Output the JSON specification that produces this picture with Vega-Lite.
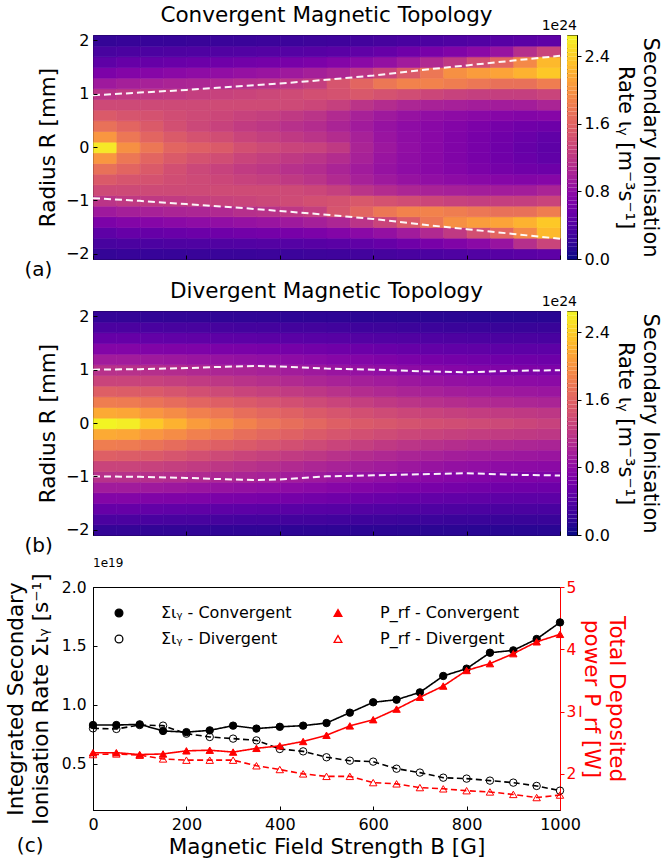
{
"$schema": "https://vega.github.io/schema/vega-lite/v6.json",
"padding": {"left": 4, "top": 4, "right": 2, "bottom": 4},
"background": "white",
"config": {
  "font": "DejaVu Sans",
  "view": {"stroke": "black", "strokeWidth": 1},
  "axis": {"grid": false, "labelFontSize": 16, "labelColor": "black", "titleFontSize": 21.5, "titleFontWeight": "normal", "titleColor": "black", "tickColor": "black", "domainColor": "black", "labelFlush": false, "tickSize": 4, "labelPadding": 3, "titleLineHeight": 25},
  "title": {"fontWeight": "normal", "color": "black", "font": "DejaVu Sans"}
},
"title": {"text": "(c)", "orient": "bottom", "anchor": "start", "frame": "bounds", "fontSize": 20, "fontWeight": "normal", "offset": -22, "dx": 12},
"columns": 2,
"bounds": "flush",
"spacing": {"row": 52, "column": 7},
"resolve": {"scale": {"color": "independent", "stroke": "independent", "strokeDash": "independent", "fill": "independent", "shape": "independent"}},
"datasets": {
"conv": [
{"b":0,"r":-2.1,"v":0.18},{"b":0,"r":-1.9,"v":0.3},{"b":0,"r":-1.7,"v":0.45},{"b":0,"r":-1.5,"v":0.65},{"b":0,"r":-1.3,"v":0.9},{"b":0,"r":-1.1,"v":1.15},{"b":0,"r":-0.9,"v":1.35},{"b":0,"r":-0.7,"v":1.5},{"b":0,"r":-0.5,"v":1.7},{"b":0,"r":-0.3,"v":2.0},{"b":0,"r":-0.1,"v":2.55},{"b":0,"r":0.1,"v":2.0},{"b":0,"r":0.3,"v":1.7},{"b":0,"r":0.5,"v":1.5},{"b":0,"r":0.7,"v":1.35},{"b":0,"r":0.9,"v":1.15},{"b":0,"r":1.1,"v":0.9},{"b":0,"r":1.3,"v":0.65},{"b":0,"r":1.5,"v":0.45},{"b":0,"r":1.7,"v":0.3},{"b":0,"r":1.9,"v":0.18},
{"b":50,"r":-2.1,"v":0.2},{"b":50,"r":-1.9,"v":0.32},{"b":50,"r":-1.7,"v":0.5},{"b":50,"r":-1.5,"v":0.7},{"b":50,"r":-1.3,"v":0.95},{"b":50,"r":-1.1,"v":1.2},{"b":50,"r":-0.9,"v":1.35},{"b":50,"r":-0.7,"v":1.45},{"b":50,"r":-0.5,"v":1.6},{"b":50,"r":-0.3,"v":1.75},{"b":50,"r":-0.1,"v":1.95},{"b":50,"r":0.1,"v":1.75},{"b":50,"r":0.3,"v":1.6},{"b":50,"r":0.5,"v":1.45},{"b":50,"r":0.7,"v":1.35},{"b":50,"r":0.9,"v":1.2},{"b":50,"r":1.1,"v":0.95},{"b":50,"r":1.3,"v":0.7},{"b":50,"r":1.5,"v":0.5},{"b":50,"r":1.7,"v":0.32},{"b":50,"r":1.9,"v":0.2},
{"b":100,"r":-2.1,"v":0.2},{"b":100,"r":-1.9,"v":0.33},{"b":100,"r":-1.7,"v":0.5},{"b":100,"r":-1.5,"v":0.72},{"b":100,"r":-1.3,"v":0.97},{"b":100,"r":-1.1,"v":1.2},{"b":100,"r":-0.9,"v":1.35},{"b":100,"r":-0.7,"v":1.42},{"b":100,"r":-0.5,"v":1.5},{"b":100,"r":-0.3,"v":1.6},{"b":100,"r":-0.1,"v":1.75},{"b":100,"r":0.1,"v":1.6},{"b":100,"r":0.3,"v":1.5},{"b":100,"r":0.5,"v":1.42},{"b":100,"r":0.7,"v":1.35},{"b":100,"r":0.9,"v":1.2},{"b":100,"r":1.1,"v":0.97},{"b":100,"r":1.3,"v":0.72},{"b":100,"r":1.5,"v":0.5},{"b":100,"r":1.7,"v":0.33},{"b":100,"r":1.9,"v":0.2},
{"b":150,"r":-2.1,"v":0.2},{"b":150,"r":-1.9,"v":0.34},{"b":150,"r":-1.7,"v":0.52},{"b":150,"r":-1.5,"v":0.75},{"b":150,"r":-1.3,"v":1.0},{"b":150,"r":-1.1,"v":1.22},{"b":150,"r":-0.9,"v":1.35},{"b":150,"r":-0.7,"v":1.38},{"b":150,"r":-0.5,"v":1.4},{"b":150,"r":-0.3,"v":1.5},{"b":150,"r":-0.1,"v":1.6},{"b":150,"r":0.1,"v":1.5},{"b":150,"r":0.3,"v":1.4},{"b":150,"r":0.5,"v":1.38},{"b":150,"r":0.7,"v":1.35},{"b":150,"r":0.9,"v":1.22},{"b":150,"r":1.1,"v":1.0},{"b":150,"r":1.3,"v":0.75},{"b":150,"r":1.5,"v":0.52},{"b":150,"r":1.7,"v":0.34},{"b":150,"r":1.9,"v":0.2},
{"b":200,"r":-2.1,"v":0.21},{"b":200,"r":-1.9,"v":0.35},{"b":200,"r":-1.7,"v":0.54},{"b":200,"r":-1.5,"v":0.78},{"b":200,"r":-1.3,"v":1.02},{"b":200,"r":-1.1,"v":1.25},{"b":200,"r":-0.9,"v":1.35},{"b":200,"r":-0.7,"v":1.35},{"b":200,"r":-0.5,"v":1.33},{"b":200,"r":-0.3,"v":1.42},{"b":200,"r":-0.1,"v":1.55},{"b":200,"r":0.1,"v":1.42},{"b":200,"r":0.3,"v":1.33},{"b":200,"r":0.5,"v":1.35},{"b":200,"r":0.7,"v":1.35},{"b":200,"r":0.9,"v":1.25},{"b":200,"r":1.1,"v":1.02},{"b":200,"r":1.3,"v":0.78},{"b":200,"r":1.5,"v":0.54},{"b":200,"r":1.7,"v":0.35},{"b":200,"r":1.9,"v":0.21},
{"b":250,"r":-2.1,"v":0.22},{"b":250,"r":-1.9,"v":0.36},{"b":250,"r":-1.7,"v":0.56},{"b":250,"r":-1.5,"v":0.8},{"b":250,"r":-1.3,"v":1.05},{"b":250,"r":-1.1,"v":1.28},{"b":250,"r":-0.9,"v":1.36},{"b":250,"r":-0.7,"v":1.32},{"b":250,"r":-0.5,"v":1.28},{"b":250,"r":-0.3,"v":1.38},{"b":250,"r":-0.1,"v":1.5},{"b":250,"r":0.1,"v":1.38},{"b":250,"r":0.3,"v":1.28},{"b":250,"r":0.5,"v":1.32},{"b":250,"r":0.7,"v":1.36},{"b":250,"r":0.9,"v":1.28},{"b":250,"r":1.1,"v":1.05},{"b":250,"r":1.3,"v":0.8},{"b":250,"r":1.5,"v":0.56},{"b":250,"r":1.7,"v":0.36},{"b":250,"r":1.9,"v":0.22},
{"b":300,"r":-2.1,"v":0.22},{"b":300,"r":-1.9,"v":0.37},{"b":300,"r":-1.7,"v":0.58},{"b":300,"r":-1.5,"v":0.83},{"b":300,"r":-1.3,"v":1.1},{"b":300,"r":-1.1,"v":1.3},{"b":300,"r":-0.9,"v":1.36},{"b":300,"r":-0.7,"v":1.28},{"b":300,"r":-0.5,"v":1.22},{"b":300,"r":-0.3,"v":1.3},{"b":300,"r":-0.1,"v":1.4},{"b":300,"r":0.1,"v":1.3},{"b":300,"r":0.3,"v":1.22},{"b":300,"r":0.5,"v":1.28},{"b":300,"r":0.7,"v":1.36},{"b":300,"r":0.9,"v":1.3},{"b":300,"r":1.1,"v":1.1},{"b":300,"r":1.3,"v":0.83},{"b":300,"r":1.5,"v":0.58},{"b":300,"r":1.7,"v":0.37},{"b":300,"r":1.9,"v":0.22},
{"b":350,"r":-2.1,"v":0.23},{"b":350,"r":-1.9,"v":0.38},{"b":350,"r":-1.7,"v":0.6},{"b":350,"r":-1.5,"v":0.86},{"b":350,"r":-1.3,"v":1.13},{"b":350,"r":-1.1,"v":1.33},{"b":350,"r":-0.9,"v":1.36},{"b":350,"r":-0.7,"v":1.25},{"b":350,"r":-0.5,"v":1.18},{"b":350,"r":-0.3,"v":1.25},{"b":350,"r":-0.1,"v":1.35},{"b":350,"r":0.1,"v":1.25},{"b":350,"r":0.3,"v":1.18},{"b":350,"r":0.5,"v":1.25},{"b":350,"r":0.7,"v":1.36},{"b":350,"r":0.9,"v":1.33},{"b":350,"r":1.1,"v":1.13},{"b":350,"r":1.3,"v":0.86},{"b":350,"r":1.5,"v":0.6},{"b":350,"r":1.7,"v":0.38},{"b":350,"r":1.9,"v":0.23},
{"b":400,"r":-2.1,"v":0.23},{"b":400,"r":-1.9,"v":0.39},{"b":400,"r":-1.7,"v":0.62},{"b":400,"r":-1.5,"v":0.9},{"b":400,"r":-1.3,"v":1.18},{"b":400,"r":-1.1,"v":1.36},{"b":400,"r":-0.9,"v":1.35},{"b":400,"r":-0.7,"v":1.2},{"b":400,"r":-0.5,"v":1.12},{"b":400,"r":-0.3,"v":1.2},{"b":400,"r":-0.1,"v":1.3},{"b":400,"r":0.1,"v":1.2},{"b":400,"r":0.3,"v":1.12},{"b":400,"r":0.5,"v":1.2},{"b":400,"r":0.7,"v":1.35},{"b":400,"r":0.9,"v":1.36},{"b":400,"r":1.1,"v":1.18},{"b":400,"r":1.3,"v":0.9},{"b":400,"r":1.5,"v":0.62},{"b":400,"r":1.7,"v":0.39},{"b":400,"r":1.9,"v":0.23},
{"b":450,"r":-2.1,"v":0.24},{"b":450,"r":-1.9,"v":0.4},{"b":450,"r":-1.7,"v":0.65},{"b":450,"r":-1.5,"v":0.95},{"b":450,"r":-1.3,"v":1.25},{"b":450,"r":-1.1,"v":1.4},{"b":450,"r":-0.9,"v":1.32},{"b":450,"r":-0.7,"v":1.15},{"b":450,"r":-0.5,"v":1.08},{"b":450,"r":-0.3,"v":1.15},{"b":450,"r":-0.1,"v":1.28},{"b":450,"r":0.1,"v":1.15},{"b":450,"r":0.3,"v":1.08},{"b":450,"r":0.5,"v":1.15},{"b":450,"r":0.7,"v":1.32},{"b":450,"r":0.9,"v":1.4},{"b":450,"r":1.1,"v":1.25},{"b":450,"r":1.3,"v":0.95},{"b":450,"r":1.5,"v":0.65},{"b":450,"r":1.7,"v":0.4},{"b":450,"r":1.9,"v":0.24},
{"b":500,"r":-2.1,"v":0.25},{"b":500,"r":-1.9,"v":0.42},{"b":500,"r":-1.7,"v":0.7},{"b":500,"r":-1.5,"v":1.02},{"b":500,"r":-1.3,"v":1.45},{"b":500,"r":-1.1,"v":1.42},{"b":500,"r":-0.9,"v":1.26},{"b":500,"r":-0.7,"v":1.06},{"b":500,"r":-0.5,"v":1.0},{"b":500,"r":-0.3,"v":1.08},{"b":500,"r":-0.1,"v":1.2},{"b":500,"r":0.1,"v":1.08},{"b":500,"r":0.3,"v":1.0},{"b":500,"r":0.5,"v":1.06},{"b":500,"r":0.7,"v":1.26},{"b":500,"r":0.9,"v":1.42},{"b":500,"r":1.1,"v":1.45},{"b":500,"r":1.3,"v":1.02},{"b":500,"r":1.5,"v":0.7},{"b":500,"r":1.7,"v":0.42},{"b":500,"r":1.9,"v":0.25},
{"b":550,"r":-2.1,"v":0.27},{"b":550,"r":-1.9,"v":0.46},{"b":550,"r":-1.7,"v":0.75},{"b":550,"r":-1.5,"v":1.15},{"b":550,"r":-1.3,"v":1.6},{"b":550,"r":-1.1,"v":1.48},{"b":550,"r":-0.9,"v":1.15},{"b":550,"r":-0.7,"v":0.97},{"b":550,"r":-0.5,"v":0.92},{"b":550,"r":-0.3,"v":0.97},{"b":550,"r":-0.1,"v":1.0},{"b":550,"r":0.1,"v":0.97},{"b":550,"r":0.3,"v":0.92},{"b":550,"r":0.5,"v":0.97},{"b":550,"r":0.7,"v":1.15},{"b":550,"r":0.9,"v":1.48},{"b":550,"r":1.1,"v":1.6},{"b":550,"r":1.3,"v":1.15},{"b":550,"r":1.5,"v":0.75},{"b":550,"r":1.7,"v":0.46},{"b":550,"r":1.9,"v":0.27},
{"b":600,"r":-2.1,"v":0.29},{"b":600,"r":-1.9,"v":0.5},{"b":600,"r":-1.7,"v":0.82},{"b":600,"r":-1.5,"v":1.3},{"b":600,"r":-1.3,"v":1.75},{"b":600,"r":-1.1,"v":1.42},{"b":600,"r":-0.9,"v":1.08},{"b":600,"r":-0.7,"v":0.9},{"b":600,"r":-0.5,"v":0.84},{"b":600,"r":-0.3,"v":0.86},{"b":600,"r":-0.1,"v":0.88},{"b":600,"r":0.1,"v":0.86},{"b":600,"r":0.3,"v":0.84},{"b":600,"r":0.5,"v":0.9},{"b":600,"r":0.7,"v":1.08},{"b":600,"r":0.9,"v":1.42},{"b":600,"r":1.1,"v":1.75},{"b":600,"r":1.3,"v":1.3},{"b":600,"r":1.5,"v":0.82},{"b":600,"r":1.7,"v":0.5},{"b":600,"r":1.9,"v":0.29},
{"b":650,"r":-2.1,"v":0.31},{"b":650,"r":-1.9,"v":0.56},{"b":650,"r":-1.7,"v":0.92},{"b":650,"r":-1.5,"v":1.5},{"b":650,"r":-1.3,"v":1.85},{"b":650,"r":-1.1,"v":1.38},{"b":650,"r":-0.9,"v":1.02},{"b":650,"r":-0.7,"v":0.84},{"b":650,"r":-0.5,"v":0.78},{"b":650,"r":-0.3,"v":0.79},{"b":650,"r":-0.1,"v":0.8},{"b":650,"r":0.1,"v":0.79},{"b":650,"r":0.3,"v":0.78},{"b":650,"r":0.5,"v":0.84},{"b":650,"r":0.7,"v":1.02},{"b":650,"r":0.9,"v":1.38},{"b":650,"r":1.1,"v":1.85},{"b":650,"r":1.3,"v":1.5},{"b":650,"r":1.5,"v":0.92},{"b":650,"r":1.7,"v":0.56},{"b":650,"r":1.9,"v":0.31},
{"b":700,"r":-2.1,"v":0.33},{"b":700,"r":-1.9,"v":0.62},{"b":700,"r":-1.7,"v":1.05},{"b":700,"r":-1.5,"v":1.75},{"b":700,"r":-1.3,"v":1.85},{"b":700,"r":-1.1,"v":1.32},{"b":700,"r":-0.9,"v":0.98},{"b":700,"r":-0.7,"v":0.8},{"b":700,"r":-0.5,"v":0.74},{"b":700,"r":-0.3,"v":0.74},{"b":700,"r":-0.1,"v":0.74},{"b":700,"r":0.1,"v":0.74},{"b":700,"r":0.3,"v":0.74},{"b":700,"r":0.5,"v":0.8},{"b":700,"r":0.7,"v":0.98},{"b":700,"r":0.9,"v":1.32},{"b":700,"r":1.1,"v":1.85},{"b":700,"r":1.3,"v":1.75},{"b":700,"r":1.5,"v":1.05},{"b":700,"r":1.7,"v":0.62},{"b":700,"r":1.9,"v":0.33},
{"b":750,"r":-2.1,"v":0.35},{"b":750,"r":-1.9,"v":0.68},{"b":750,"r":-1.7,"v":1.2},{"b":750,"r":-1.5,"v":1.95},{"b":750,"r":-1.3,"v":1.8},{"b":750,"r":-1.1,"v":1.28},{"b":750,"r":-0.9,"v":0.96},{"b":750,"r":-0.7,"v":0.77},{"b":750,"r":-0.5,"v":0.7},{"b":750,"r":-0.3,"v":0.68},{"b":750,"r":-0.1,"v":0.68},{"b":750,"r":0.1,"v":0.68},{"b":750,"r":0.3,"v":0.7},{"b":750,"r":0.5,"v":0.77},{"b":750,"r":0.7,"v":0.96},{"b":750,"r":0.9,"v":1.28},{"b":750,"r":1.1,"v":1.8},{"b":750,"r":1.3,"v":1.95},{"b":750,"r":1.5,"v":1.2},{"b":750,"r":1.7,"v":0.68},{"b":750,"r":1.9,"v":0.35},
{"b":800,"r":-2.1,"v":0.37},{"b":800,"r":-1.9,"v":0.75},{"b":800,"r":-1.7,"v":1.4},{"b":800,"r":-1.5,"v":2.05},{"b":800,"r":-1.3,"v":1.75},{"b":800,"r":-1.1,"v":1.25},{"b":800,"r":-0.9,"v":0.94},{"b":800,"r":-0.7,"v":0.74},{"b":800,"r":-0.5,"v":0.65},{"b":800,"r":-0.3,"v":0.62},{"b":800,"r":-0.1,"v":0.62},{"b":800,"r":0.1,"v":0.62},{"b":800,"r":0.3,"v":0.65},{"b":800,"r":0.5,"v":0.74},{"b":800,"r":0.7,"v":0.94},{"b":800,"r":0.9,"v":1.25},{"b":800,"r":1.1,"v":1.75},{"b":800,"r":1.3,"v":2.05},{"b":800,"r":1.5,"v":1.4},{"b":800,"r":1.7,"v":0.75},{"b":800,"r":1.9,"v":0.37},
{"b":850,"r":-2.1,"v":0.4},{"b":850,"r":-1.9,"v":0.85},{"b":850,"r":-1.7,"v":1.6},{"b":850,"r":-1.5,"v":2.1},{"b":850,"r":-1.3,"v":1.7},{"b":850,"r":-1.1,"v":1.25},{"b":850,"r":-0.9,"v":0.93},{"b":850,"r":-0.7,"v":0.72},{"b":850,"r":-0.5,"v":0.6},{"b":850,"r":-0.3,"v":0.57},{"b":850,"r":-0.1,"v":0.56},{"b":850,"r":0.1,"v":0.57},{"b":850,"r":0.3,"v":0.6},{"b":850,"r":0.5,"v":0.72},{"b":850,"r":0.7,"v":0.93},{"b":850,"r":0.9,"v":1.25},{"b":850,"r":1.1,"v":1.7},{"b":850,"r":1.3,"v":2.1},{"b":850,"r":1.5,"v":1.6},{"b":850,"r":1.7,"v":0.85},{"b":850,"r":1.9,"v":0.4},
{"b":900,"r":-2.1,"v":0.42},{"b":900,"r":-1.9,"v":1.1},{"b":900,"r":-1.7,"v":1.9},{"b":900,"r":-1.5,"v":2.2},{"b":900,"r":-1.3,"v":1.7},{"b":900,"r":-1.1,"v":1.25},{"b":900,"r":-0.9,"v":0.94},{"b":900,"r":-0.7,"v":0.7},{"b":900,"r":-0.5,"v":0.57},{"b":900,"r":-0.3,"v":0.52},{"b":900,"r":-0.1,"v":0.5},{"b":900,"r":0.1,"v":0.52},{"b":900,"r":0.3,"v":0.57},{"b":900,"r":0.5,"v":0.7},{"b":900,"r":0.7,"v":0.94},{"b":900,"r":0.9,"v":1.25},{"b":900,"r":1.1,"v":1.7},{"b":900,"r":1.3,"v":2.2},{"b":900,"r":1.5,"v":1.9},{"b":900,"r":1.7,"v":1.1},{"b":900,"r":1.9,"v":0.42},
{"b":950,"r":-2.1,"v":0.45},{"b":950,"r":-1.9,"v":1.3},{"b":950,"r":-1.7,"v":2.25},{"b":950,"r":-1.5,"v":2.35},{"b":950,"r":-1.3,"v":1.8},{"b":950,"r":-1.1,"v":1.3},{"b":950,"r":-0.9,"v":1.0},{"b":950,"r":-0.7,"v":0.72},{"b":950,"r":-0.5,"v":0.55},{"b":950,"r":-0.3,"v":0.47},{"b":950,"r":-0.1,"v":0.45},{"b":950,"r":0.1,"v":0.47},{"b":950,"r":0.3,"v":0.55},{"b":950,"r":0.5,"v":0.72},{"b":950,"r":0.7,"v":1.0},{"b":950,"r":0.9,"v":1.3},{"b":950,"r":1.1,"v":1.8},{"b":950,"r":1.3,"v":2.35},{"b":950,"r":1.5,"v":2.25},{"b":950,"r":1.7,"v":1.3},{"b":950,"r":1.9,"v":0.45}
],
"div": [
{"b":0,"r":-2.1,"v":0.18},{"b":0,"r":-1.9,"v":0.32},{"b":0,"r":-1.7,"v":0.5},{"b":0,"r":-1.5,"v":0.7},{"b":0,"r":-1.3,"v":0.92},{"b":0,"r":-1.1,"v":1.12},{"b":0,"r":-0.9,"v":1.3},{"b":0,"r":-0.7,"v":1.55},{"b":0,"r":-0.5,"v":1.8},{"b":0,"r":-0.3,"v":2.15},{"b":0,"r":-0.1,"v":2.62},{"b":0,"r":0.1,"v":2.15},{"b":0,"r":0.3,"v":1.8},{"b":0,"r":0.5,"v":1.55},{"b":0,"r":0.7,"v":1.3},{"b":0,"r":0.9,"v":1.12},{"b":0,"r":1.1,"v":0.92},{"b":0,"r":1.3,"v":0.7},{"b":0,"r":1.5,"v":0.5},{"b":0,"r":1.7,"v":0.32},{"b":0,"r":1.9,"v":0.18},
{"b":50,"r":-2.1,"v":0.18},{"b":50,"r":-1.9,"v":0.32},{"b":50,"r":-1.7,"v":0.5},{"b":50,"r":-1.5,"v":0.7},{"b":50,"r":-1.3,"v":0.92},{"b":50,"r":-1.1,"v":1.12},{"b":50,"r":-0.9,"v":1.3},{"b":50,"r":-0.7,"v":1.53},{"b":50,"r":-0.5,"v":1.78},{"b":50,"r":-0.3,"v":2.12},{"b":50,"r":-0.1,"v":2.58},{"b":50,"r":0.1,"v":2.12},{"b":50,"r":0.3,"v":1.78},{"b":50,"r":0.5,"v":1.53},{"b":50,"r":0.7,"v":1.3},{"b":50,"r":0.9,"v":1.12},{"b":50,"r":1.1,"v":0.92},{"b":50,"r":1.3,"v":0.7},{"b":50,"r":1.5,"v":0.5},{"b":50,"r":1.7,"v":0.32},{"b":50,"r":1.9,"v":0.18},
{"b":100,"r":-2.1,"v":0.17},{"b":100,"r":-1.9,"v":0.31},{"b":100,"r":-1.7,"v":0.48},{"b":100,"r":-1.5,"v":0.68},{"b":100,"r":-1.3,"v":0.9},{"b":100,"r":-1.1,"v":1.1},{"b":100,"r":-0.9,"v":1.28},{"b":100,"r":-0.7,"v":1.5},{"b":100,"r":-0.5,"v":1.72},{"b":100,"r":-0.3,"v":2.0},{"b":100,"r":-0.1,"v":2.35},{"b":100,"r":0.1,"v":2.0},{"b":100,"r":0.3,"v":1.72},{"b":100,"r":0.5,"v":1.5},{"b":100,"r":0.7,"v":1.28},{"b":100,"r":0.9,"v":1.1},{"b":100,"r":1.1,"v":0.9},{"b":100,"r":1.3,"v":0.68},{"b":100,"r":1.5,"v":0.48},{"b":100,"r":1.7,"v":0.31},{"b":100,"r":1.9,"v":0.17},
{"b":150,"r":-2.1,"v":0.17},{"b":150,"r":-1.9,"v":0.3},{"b":150,"r":-1.7,"v":0.47},{"b":150,"r":-1.5,"v":0.67},{"b":150,"r":-1.3,"v":0.88},{"b":150,"r":-1.1,"v":1.08},{"b":150,"r":-0.9,"v":1.25},{"b":150,"r":-0.7,"v":1.45},{"b":150,"r":-0.5,"v":1.66},{"b":150,"r":-0.3,"v":1.92},{"b":150,"r":-0.1,"v":2.2},{"b":150,"r":0.1,"v":1.92},{"b":150,"r":0.3,"v":1.66},{"b":150,"r":0.5,"v":1.45},{"b":150,"r":0.7,"v":1.25},{"b":150,"r":0.9,"v":1.08},{"b":150,"r":1.1,"v":0.88},{"b":150,"r":1.3,"v":0.67},{"b":150,"r":1.5,"v":0.47},{"b":150,"r":1.7,"v":0.3},{"b":150,"r":1.9,"v":0.17},
{"b":200,"r":-2.1,"v":0.17},{"b":200,"r":-1.9,"v":0.3},{"b":200,"r":-1.7,"v":0.46},{"b":200,"r":-1.5,"v":0.66},{"b":200,"r":-1.3,"v":0.86},{"b":200,"r":-1.1,"v":1.05},{"b":200,"r":-0.9,"v":1.22},{"b":200,"r":-0.7,"v":1.4},{"b":200,"r":-0.5,"v":1.6},{"b":200,"r":-0.3,"v":1.83},{"b":200,"r":-0.1,"v":2.05},{"b":200,"r":0.1,"v":1.83},{"b":200,"r":0.3,"v":1.6},{"b":200,"r":0.5,"v":1.4},{"b":200,"r":0.7,"v":1.22},{"b":200,"r":0.9,"v":1.05},{"b":200,"r":1.1,"v":0.86},{"b":200,"r":1.3,"v":0.66},{"b":200,"r":1.5,"v":0.46},{"b":200,"r":1.7,"v":0.3},{"b":200,"r":1.9,"v":0.17},
{"b":250,"r":-2.1,"v":0.16},{"b":250,"r":-1.9,"v":0.29},{"b":250,"r":-1.7,"v":0.45},{"b":250,"r":-1.5,"v":0.64},{"b":250,"r":-1.3,"v":0.84},{"b":250,"r":-1.1,"v":1.02},{"b":250,"r":-0.9,"v":1.18},{"b":250,"r":-0.7,"v":1.35},{"b":250,"r":-0.5,"v":1.55},{"b":250,"r":-0.3,"v":1.76},{"b":250,"r":-0.1,"v":1.95},{"b":250,"r":0.1,"v":1.76},{"b":250,"r":0.3,"v":1.55},{"b":250,"r":0.5,"v":1.35},{"b":250,"r":0.7,"v":1.18},{"b":250,"r":0.9,"v":1.02},{"b":250,"r":1.1,"v":0.84},{"b":250,"r":1.3,"v":0.64},{"b":250,"r":1.5,"v":0.45},{"b":250,"r":1.7,"v":0.29},{"b":250,"r":1.9,"v":0.16},
{"b":300,"r":-2.1,"v":0.16},{"b":300,"r":-1.9,"v":0.28},{"b":300,"r":-1.7,"v":0.44},{"b":300,"r":-1.5,"v":0.63},{"b":300,"r":-1.3,"v":0.82},{"b":300,"r":-1.1,"v":1.0},{"b":300,"r":-0.9,"v":1.14},{"b":300,"r":-0.7,"v":1.3},{"b":300,"r":-0.5,"v":1.5},{"b":300,"r":-0.3,"v":1.68},{"b":300,"r":-0.1,"v":1.85},{"b":300,"r":0.1,"v":1.68},{"b":300,"r":0.3,"v":1.5},{"b":300,"r":0.5,"v":1.3},{"b":300,"r":0.7,"v":1.14},{"b":300,"r":0.9,"v":1.0},{"b":300,"r":1.1,"v":0.82},{"b":300,"r":1.3,"v":0.63},{"b":300,"r":1.5,"v":0.44},{"b":300,"r":1.7,"v":0.28},{"b":300,"r":1.9,"v":0.16},
{"b":350,"r":-2.1,"v":0.16},{"b":350,"r":-1.9,"v":0.28},{"b":350,"r":-1.7,"v":0.43},{"b":350,"r":-1.5,"v":0.62},{"b":350,"r":-1.3,"v":0.8},{"b":350,"r":-1.1,"v":0.97},{"b":350,"r":-0.9,"v":1.1},{"b":350,"r":-0.7,"v":1.26},{"b":350,"r":-0.5,"v":1.45},{"b":350,"r":-0.3,"v":1.62},{"b":350,"r":-0.1,"v":1.75},{"b":350,"r":0.1,"v":1.62},{"b":350,"r":0.3,"v":1.45},{"b":350,"r":0.5,"v":1.26},{"b":350,"r":0.7,"v":1.1},{"b":350,"r":0.9,"v":0.97},{"b":350,"r":1.1,"v":0.8},{"b":350,"r":1.3,"v":0.62},{"b":350,"r":1.5,"v":0.43},{"b":350,"r":1.7,"v":0.28},{"b":350,"r":1.9,"v":0.16},
{"b":400,"r":-2.1,"v":0.15},{"b":400,"r":-1.9,"v":0.27},{"b":400,"r":-1.7,"v":0.42},{"b":400,"r":-1.5,"v":0.6},{"b":400,"r":-1.3,"v":0.77},{"b":400,"r":-1.1,"v":0.93},{"b":400,"r":-0.9,"v":1.06},{"b":400,"r":-0.7,"v":1.22},{"b":400,"r":-0.5,"v":1.4},{"b":400,"r":-0.3,"v":1.56},{"b":400,"r":-0.1,"v":1.68},{"b":400,"r":0.1,"v":1.56},{"b":400,"r":0.3,"v":1.4},{"b":400,"r":0.5,"v":1.22},{"b":400,"r":0.7,"v":1.06},{"b":400,"r":0.9,"v":0.93},{"b":400,"r":1.1,"v":0.77},{"b":400,"r":1.3,"v":0.6},{"b":400,"r":1.5,"v":0.42},{"b":400,"r":1.7,"v":0.27},{"b":400,"r":1.9,"v":0.15},
{"b":450,"r":-2.1,"v":0.15},{"b":450,"r":-1.9,"v":0.27},{"b":450,"r":-1.7,"v":0.41},{"b":450,"r":-1.5,"v":0.58},{"b":450,"r":-1.3,"v":0.75},{"b":450,"r":-1.1,"v":0.9},{"b":450,"r":-0.9,"v":1.02},{"b":450,"r":-0.7,"v":1.18},{"b":450,"r":-0.5,"v":1.35},{"b":450,"r":-0.3,"v":1.5},{"b":450,"r":-0.1,"v":1.62},{"b":450,"r":0.1,"v":1.5},{"b":450,"r":0.3,"v":1.35},{"b":450,"r":0.5,"v":1.18},{"b":450,"r":0.7,"v":1.02},{"b":450,"r":0.9,"v":0.9},{"b":450,"r":1.1,"v":0.75},{"b":450,"r":1.3,"v":0.58},{"b":450,"r":1.5,"v":0.41},{"b":450,"r":1.7,"v":0.27},{"b":450,"r":1.9,"v":0.15},
{"b":500,"r":-2.1,"v":0.15},{"b":500,"r":-1.9,"v":0.26},{"b":500,"r":-1.7,"v":0.4},{"b":500,"r":-1.5,"v":0.56},{"b":500,"r":-1.3,"v":0.72},{"b":500,"r":-1.1,"v":0.86},{"b":500,"r":-0.9,"v":0.98},{"b":500,"r":-0.7,"v":1.13},{"b":500,"r":-0.5,"v":1.3},{"b":500,"r":-0.3,"v":1.45},{"b":500,"r":-0.1,"v":1.55},{"b":500,"r":0.1,"v":1.45},{"b":500,"r":0.3,"v":1.3},{"b":500,"r":0.5,"v":1.13},{"b":500,"r":0.7,"v":0.98},{"b":500,"r":0.9,"v":0.86},{"b":500,"r":1.1,"v":0.72},{"b":500,"r":1.3,"v":0.56},{"b":500,"r":1.5,"v":0.4},{"b":500,"r":1.7,"v":0.26},{"b":500,"r":1.9,"v":0.15},
{"b":550,"r":-2.1,"v":0.14},{"b":550,"r":-1.9,"v":0.25},{"b":550,"r":-1.7,"v":0.38},{"b":550,"r":-1.5,"v":0.54},{"b":550,"r":-1.3,"v":0.7},{"b":550,"r":-1.1,"v":0.83},{"b":550,"r":-0.9,"v":0.95},{"b":550,"r":-0.7,"v":1.08},{"b":550,"r":-0.5,"v":1.25},{"b":550,"r":-0.3,"v":1.4},{"b":550,"r":-0.1,"v":1.5},{"b":550,"r":0.1,"v":1.4},{"b":550,"r":0.3,"v":1.25},{"b":550,"r":0.5,"v":1.08},{"b":550,"r":0.7,"v":0.95},{"b":550,"r":0.9,"v":0.83},{"b":550,"r":1.1,"v":0.7},{"b":550,"r":1.3,"v":0.54},{"b":550,"r":1.5,"v":0.38},{"b":550,"r":1.7,"v":0.25},{"b":550,"r":1.9,"v":0.14},
{"b":600,"r":-2.1,"v":0.14},{"b":600,"r":-1.9,"v":0.24},{"b":600,"r":-1.7,"v":0.37},{"b":600,"r":-1.5,"v":0.52},{"b":600,"r":-1.3,"v":0.67},{"b":600,"r":-1.1,"v":0.8},{"b":600,"r":-0.9,"v":0.92},{"b":600,"r":-0.7,"v":1.04},{"b":600,"r":-0.5,"v":1.2},{"b":600,"r":-0.3,"v":1.36},{"b":600,"r":-0.1,"v":1.47},{"b":600,"r":0.1,"v":1.36},{"b":600,"r":0.3,"v":1.2},{"b":600,"r":0.5,"v":1.04},{"b":600,"r":0.7,"v":0.92},{"b":600,"r":0.9,"v":0.8},{"b":600,"r":1.1,"v":0.67},{"b":600,"r":1.3,"v":0.52},{"b":600,"r":1.5,"v":0.37},{"b":600,"r":1.7,"v":0.24},{"b":600,"r":1.9,"v":0.14},
{"b":650,"r":-2.1,"v":0.13},{"b":650,"r":-1.9,"v":0.23},{"b":650,"r":-1.7,"v":0.36},{"b":650,"r":-1.5,"v":0.5},{"b":650,"r":-1.3,"v":0.64},{"b":650,"r":-1.1,"v":0.77},{"b":650,"r":-0.9,"v":0.88},{"b":650,"r":-0.7,"v":1.0},{"b":650,"r":-0.5,"v":1.16},{"b":650,"r":-0.3,"v":1.32},{"b":650,"r":-0.1,"v":1.43},{"b":650,"r":0.1,"v":1.32},{"b":650,"r":0.3,"v":1.16},{"b":650,"r":0.5,"v":1.0},{"b":650,"r":0.7,"v":0.88},{"b":650,"r":0.9,"v":0.77},{"b":650,"r":1.1,"v":0.64},{"b":650,"r":1.3,"v":0.5},{"b":650,"r":1.5,"v":0.36},{"b":650,"r":1.7,"v":0.23},{"b":650,"r":1.9,"v":0.13},
{"b":700,"r":-2.1,"v":0.13},{"b":700,"r":-1.9,"v":0.23},{"b":700,"r":-1.7,"v":0.35},{"b":700,"r":-1.5,"v":0.48},{"b":700,"r":-1.3,"v":0.62},{"b":700,"r":-1.1,"v":0.74},{"b":700,"r":-0.9,"v":0.85},{"b":700,"r":-0.7,"v":0.97},{"b":700,"r":-0.5,"v":1.12},{"b":700,"r":-0.3,"v":1.29},{"b":700,"r":-0.1,"v":1.4},{"b":700,"r":0.1,"v":1.29},{"b":700,"r":0.3,"v":1.12},{"b":700,"r":0.5,"v":0.97},{"b":700,"r":0.7,"v":0.85},{"b":700,"r":0.9,"v":0.74},{"b":700,"r":1.1,"v":0.62},{"b":700,"r":1.3,"v":0.48},{"b":700,"r":1.5,"v":0.35},{"b":700,"r":1.7,"v":0.23},{"b":700,"r":1.9,"v":0.13},
{"b":750,"r":-2.1,"v":0.13},{"b":750,"r":-1.9,"v":0.22},{"b":750,"r":-1.7,"v":0.34},{"b":750,"r":-1.5,"v":0.47},{"b":750,"r":-1.3,"v":0.6},{"b":750,"r":-1.1,"v":0.72},{"b":750,"r":-0.9,"v":0.82},{"b":750,"r":-0.7,"v":0.94},{"b":750,"r":-0.5,"v":1.09},{"b":750,"r":-0.3,"v":1.26},{"b":750,"r":-0.1,"v":1.38},{"b":750,"r":0.1,"v":1.26},{"b":750,"r":0.3,"v":1.09},{"b":750,"r":0.5,"v":0.94},{"b":750,"r":0.7,"v":0.82},{"b":750,"r":0.9,"v":0.72},{"b":750,"r":1.1,"v":0.6},{"b":750,"r":1.3,"v":0.47},{"b":750,"r":1.5,"v":0.34},{"b":750,"r":1.7,"v":0.22},{"b":750,"r":1.9,"v":0.13},
{"b":800,"r":-2.1,"v":0.12},{"b":800,"r":-1.9,"v":0.22},{"b":800,"r":-1.7,"v":0.33},{"b":800,"r":-1.5,"v":0.46},{"b":800,"r":-1.3,"v":0.58},{"b":800,"r":-1.1,"v":0.7},{"b":800,"r":-0.9,"v":0.8},{"b":800,"r":-0.7,"v":0.92},{"b":800,"r":-0.5,"v":1.06},{"b":800,"r":-0.3,"v":1.24},{"b":800,"r":-0.1,"v":1.36},{"b":800,"r":0.1,"v":1.24},{"b":800,"r":0.3,"v":1.06},{"b":800,"r":0.5,"v":0.92},{"b":800,"r":0.7,"v":0.8},{"b":800,"r":0.9,"v":0.7},{"b":800,"r":1.1,"v":0.58},{"b":800,"r":1.3,"v":0.46},{"b":800,"r":1.5,"v":0.33},{"b":800,"r":1.7,"v":0.22},{"b":800,"r":1.9,"v":0.12},
{"b":850,"r":-2.1,"v":0.12},{"b":850,"r":-1.9,"v":0.21},{"b":850,"r":-1.7,"v":0.32},{"b":850,"r":-1.5,"v":0.45},{"b":850,"r":-1.3,"v":0.57},{"b":850,"r":-1.1,"v":0.68},{"b":850,"r":-0.9,"v":0.78},{"b":850,"r":-0.7,"v":0.9},{"b":850,"r":-0.5,"v":1.04},{"b":850,"r":-0.3,"v":1.22},{"b":850,"r":-0.1,"v":1.34},{"b":850,"r":0.1,"v":1.22},{"b":850,"r":0.3,"v":1.04},{"b":850,"r":0.5,"v":0.9},{"b":850,"r":0.7,"v":0.78},{"b":850,"r":0.9,"v":0.68},{"b":850,"r":1.1,"v":0.57},{"b":850,"r":1.3,"v":0.45},{"b":850,"r":1.5,"v":0.32},{"b":850,"r":1.7,"v":0.21},{"b":850,"r":1.9,"v":0.12},
{"b":900,"r":-2.1,"v":0.12},{"b":900,"r":-1.9,"v":0.21},{"b":900,"r":-1.7,"v":0.32},{"b":900,"r":-1.5,"v":0.44},{"b":900,"r":-1.3,"v":0.56},{"b":900,"r":-1.1,"v":0.67},{"b":900,"r":-0.9,"v":0.77},{"b":900,"r":-0.7,"v":0.88},{"b":900,"r":-0.5,"v":1.02},{"b":900,"r":-0.3,"v":1.2},{"b":900,"r":-0.1,"v":1.31},{"b":900,"r":0.1,"v":1.2},{"b":900,"r":0.3,"v":1.02},{"b":900,"r":0.5,"v":0.88},{"b":900,"r":0.7,"v":0.77},{"b":900,"r":0.9,"v":0.67},{"b":900,"r":1.1,"v":0.56},{"b":900,"r":1.3,"v":0.44},{"b":900,"r":1.5,"v":0.32},{"b":900,"r":1.7,"v":0.21},{"b":900,"r":1.9,"v":0.12},
{"b":950,"r":-2.1,"v":0.12},{"b":950,"r":-1.9,"v":0.21},{"b":950,"r":-1.7,"v":0.31},{"b":950,"r":-1.5,"v":0.44},{"b":950,"r":-1.3,"v":0.55},{"b":950,"r":-1.1,"v":0.66},{"b":950,"r":-0.9,"v":0.76},{"b":950,"r":-0.7,"v":0.87},{"b":950,"r":-0.5,"v":1.0},{"b":950,"r":-0.3,"v":1.18},{"b":950,"r":-0.1,"v":1.28},{"b":950,"r":0.1,"v":1.18},{"b":950,"r":0.3,"v":1.0},{"b":950,"r":0.5,"v":0.87},{"b":950,"r":0.7,"v":0.76},{"b":950,"r":0.9,"v":0.66},{"b":950,"r":1.1,"v":0.55},{"b":950,"r":1.3,"v":0.44},{"b":950,"r":1.5,"v":0.31},{"b":950,"r":1.7,"v":0.21},{"b":950,"r":1.9,"v":0.12}
],
"convLine": [
{"b":0,"r":0.97,"s":"u"},{"b":100,"r":1.02,"s":"u"},{"b":200,"r":1.07,"s":"u"},{"b":300,"r":1.13,"s":"u"},{"b":400,"r":1.19,"s":"u"},{"b":500,"r":1.26,"s":"u"},{"b":600,"r":1.34,"s":"u"},{"b":700,"r":1.44,"s":"u"},{"b":800,"r":1.53,"s":"u"},{"b":900,"r":1.62,"s":"u"},{"b":1000,"r":1.71,"s":"u"},
{"b":0,"r":-0.96,"s":"l"},{"b":100,"r":-1.01,"s":"l"},{"b":200,"r":-1.07,"s":"l"},{"b":300,"r":-1.13,"s":"l"},{"b":400,"r":-1.2,"s":"l"},{"b":500,"r":-1.27,"s":"l"},{"b":600,"r":-1.35,"s":"l"},{"b":700,"r":-1.45,"s":"l"},{"b":800,"r":-1.54,"s":"l"},{"b":900,"r":-1.63,"s":"l"},{"b":1000,"r":-1.72,"s":"l"}
],
"divLine": [
{"b":0,"r":1.0,"s":"u"},{"b":100,"r":1.01,"s":"u"},{"b":200,"r":1.03,"s":"u"},{"b":300,"r":1.06,"s":"u"},{"b":350,"r":1.07,"s":"u"},{"b":400,"r":1.06,"s":"u"},{"b":500,"r":1.02,"s":"u"},{"b":600,"r":1.0,"s":"u"},{"b":700,"r":0.97,"s":"u"},{"b":800,"r":0.95,"s":"u"},{"b":900,"r":0.98,"s":"u"},{"b":1000,"r":0.99,"s":"u"},
{"b":0,"r":-1.0,"s":"l"},{"b":100,"r":-1.01,"s":"l"},{"b":200,"r":-1.03,"s":"l"},{"b":300,"r":-1.06,"s":"l"},{"b":350,"r":-1.07,"s":"l"},{"b":400,"r":-1.06,"s":"l"},{"b":500,"r":-1.0,"s":"l"},{"b":600,"r":-0.98,"s":"l"},{"b":700,"r":-0.96,"s":"l"},{"b":800,"r":-0.94,"s":"l"},{"b":900,"r":-0.97,"s":"l"},{"b":1000,"r":-0.985,"s":"l"}
],
"cb": [
{"c":0},{"c":0.05},{"c":0.1},{"c":0.15},{"c":0.2},{"c":0.25},{"c":0.3},{"c":0.35},{"c":0.4},{"c":0.45},{"c":0.5},{"c":0.55},{"c":0.6},{"c":0.65},{"c":0.7},{"c":0.75},{"c":0.8},{"c":0.85},{"c":0.9},{"c":0.95},{"c":1.0},{"c":1.05},{"c":1.1},{"c":1.15},{"c":1.2},{"c":1.25},{"c":1.3},{"c":1.35},{"c":1.4},{"c":1.45},{"c":1.5},{"c":1.55},{"c":1.6},{"c":1.65},{"c":1.7},{"c":1.75},{"c":1.8},{"c":1.85},{"c":1.9},{"c":1.95},{"c":2.0},{"c":2.05},{"c":2.1},{"c":2.15},{"c":2.2},{"c":2.25},{"c":2.3},{"c":2.35},{"c":2.4},{"c":2.45},{"c":2.5},{"c":2.55},{"c":2.6}
],
"sig": [
{"b":0,"s":"Σιᵧ - Convergent","v":0.83},{"b":50,"s":"Σιᵧ - Convergent","v":0.83},{"b":100,"s":"Σιᵧ - Convergent","v":0.836},{"b":150,"s":"Σιᵧ - Convergent","v":0.78},{"b":200,"s":"Σιᵧ - Convergent","v":0.77},{"b":250,"s":"Σιᵧ - Convergent","v":0.785},{"b":300,"s":"Σιᵧ - Convergent","v":0.825},{"b":350,"s":"Σιᵧ - Convergent","v":0.8},{"b":400,"s":"Σιᵧ - Convergent","v":0.815},{"b":450,"s":"Σιᵧ - Convergent","v":0.825},{"b":500,"s":"Σιᵧ - Convergent","v":0.847},{"b":550,"s":"Σιᵧ - Convergent","v":0.935},{"b":600,"s":"Σιᵧ - Convergent","v":1.023},{"b":650,"s":"Σιᵧ - Convergent","v":1.045},{"b":700,"s":"Σιᵧ - Convergent","v":1.107},{"b":750,"s":"Σιᵧ - Convergent","v":1.246},{"b":800,"s":"Σιᵧ - Convergent","v":1.308},{"b":850,"s":"Σιᵧ - Convergent","v":1.443},{"b":900,"s":"Σιᵧ - Convergent","v":1.463},{"b":950,"s":"Σιᵧ - Convergent","v":1.559},{"b":1000,"s":"Σιᵧ - Convergent","v":1.7},
{"b":0,"s":"Σιᵧ - Divergent","v":0.802},{"b":50,"s":"Σιᵧ - Divergent","v":0.797},{"b":100,"s":"Σιᵧ - Divergent","v":0.83},{"b":150,"s":"Σιᵧ - Divergent","v":0.825},{"b":200,"s":"Σιᵧ - Divergent","v":0.757},{"b":250,"s":"Σιᵧ - Divergent","v":0.729},{"b":300,"s":"Σιᵧ - Divergent","v":0.715},{"b":350,"s":"Σιᵧ - Divergent","v":0.7},{"b":400,"s":"Σιᵧ - Divergent","v":0.627},{"b":450,"s":"Σιᵧ - Divergent","v":0.607},{"b":500,"s":"Σιᵧ - Divergent","v":0.557},{"b":550,"s":"Σιᵧ - Divergent","v":0.528},{"b":600,"s":"Σιᵧ - Divergent","v":0.52},{"b":650,"s":"Σιᵧ - Divergent","v":0.46},{"b":700,"s":"Σιᵧ - Divergent","v":0.427},{"b":750,"s":"Σιᵧ - Divergent","v":0.384},{"b":800,"s":"Σιᵧ - Divergent","v":0.376},{"b":850,"s":"Σιᵧ - Divergent","v":0.359},{"b":900,"s":"Σιᵧ - Divergent","v":0.342},{"b":950,"s":"Σιᵧ - Divergent","v":0.314},{"b":1000,"s":"Σιᵧ - Divergent","v":0.274}
],
"prf": [
{"b":0,"s":"P_rf - Convergent","v":2.34},{"b":50,"s":"P_rf - Convergent","v":2.34},{"b":100,"s":"P_rf - Convergent","v":2.31},{"b":150,"s":"P_rf - Convergent","v":2.32},{"b":200,"s":"P_rf - Convergent","v":2.37},{"b":250,"s":"P_rf - Convergent","v":2.38},{"b":300,"s":"P_rf - Convergent","v":2.35},{"b":350,"s":"P_rf - Convergent","v":2.41},{"b":400,"s":"P_rf - Convergent","v":2.45},{"b":450,"s":"P_rf - Convergent","v":2.52},{"b":500,"s":"P_rf - Convergent","v":2.62},{"b":550,"s":"P_rf - Convergent","v":2.77},{"b":600,"s":"P_rf - Convergent","v":2.87},{"b":650,"s":"P_rf - Convergent","v":3.04},{"b":700,"s":"P_rf - Convergent","v":3.23},{"b":750,"s":"P_rf - Convergent","v":3.41},{"b":800,"s":"P_rf - Convergent","v":3.66},{"b":850,"s":"P_rf - Convergent","v":3.77},{"b":900,"s":"P_rf - Convergent","v":3.93},{"b":950,"s":"P_rf - Convergent","v":4.12},{"b":1000,"s":"P_rf - Convergent","v":4.24},
{"b":0,"s":"P_rf - Divergent","v":2.31},{"b":50,"s":"P_rf - Divergent","v":2.32},{"b":100,"s":"P_rf - Divergent","v":2.3},{"b":150,"s":"P_rf - Divergent","v":2.24},{"b":200,"s":"P_rf - Divergent","v":2.22},{"b":250,"s":"P_rf - Divergent","v":2.22},{"b":300,"s":"P_rf - Divergent","v":2.22},{"b":350,"s":"P_rf - Divergent","v":2.13},{"b":400,"s":"P_rf - Divergent","v":2.07},{"b":450,"s":"P_rf - Divergent","v":2.0},{"b":500,"s":"P_rf - Divergent","v":1.96},{"b":550,"s":"P_rf - Divergent","v":1.96},{"b":600,"s":"P_rf - Divergent","v":1.86},{"b":650,"s":"P_rf - Divergent","v":1.84},{"b":700,"s":"P_rf - Divergent","v":1.78},{"b":750,"s":"P_rf - Divergent","v":1.76},{"b":800,"s":"P_rf - Divergent","v":1.73},{"b":850,"s":"P_rf - Divergent","v":1.71},{"b":900,"s":"P_rf - Divergent","v":1.67},{"b":950,"s":"P_rf - Divergent","v":1.62},{"b":1000,"s":"P_rf - Divergent","v":1.66}
]
},
"concat": [
{
  "width": 467, "height": 224,
  "title": {"text": "Convergent Magnetic Topology", "frame": "group", "fontSize": 21.5, "offset": 6},
  "layer": [
    {"data": {"name": "conv"}, "mark": {"type": "rect", "binSpacing": 0, "strokeWidth": 0.6},
     "encoding": {
       "x": {"field": "b", "type": "quantitative", "bin": {"binned": true, "step": 50}, "scale": {"domain": [0, 1000], "nice": false, "zero": false},
             "axis": {"values": [0, 200, 400, 600, 800, 1000], "labels": false, "tickSize": -4, "domain": false, "title": "(a)", "titleFontSize": 20, "titleAngle": 0, "titleAlign": "left", "titleBaseline": "alphabetic", "titleX": -69, "titleY": 16}},
       "y": {"field": "r", "type": "quantitative", "bin": {"binned": true, "step": 0.2}, "scale": {"domain": [-2.1, 2.1], "nice": false, "zero": false},
             "axis": {"values": [-2, -1, 0, 1, 2], "format": "d", "tickSize": -4, "labelPadding": 8, "domain": false, "title": "Radius R [mm]", "titlePadding": 6}},
       "color": {"field": "v", "type": "quantitative", "scale": {"scheme": "plasma", "domain": [0, 2.65]}, "legend": null},
       "stroke": {"field": "v", "type": "quantitative", "scale": {"scheme": "plasma", "domain": [0, 2.65]}, "legend": null}
     }},
    {"data": {"name": "convLine"}, "mark": {"type": "line", "stroke": "white", "strokeWidth": 2, "strokeDash": [7, 4], "opacity": 0.95},
     "encoding": {"x": {"field": "b", "type": "quantitative"}, "y": {"field": "r", "type": "quantitative"}, "detail": {"field": "s"}}}
  ]
},
{
  "width": 10, "height": 224,
  "data": {"name": "cb"},
  "title": {"text": "1e24", "anchor": "end", "frame": "group", "fontSize": 14, "offset": 2},
  "mark": {"type": "rect", "binSpacing": 0},
  "encoding": {
    "y": {"field": "c", "type": "quantitative", "bin": {"binned": true, "step": 0.05}, "scale": {"domain": [0, 2.65], "nice": false, "zero": false},
          "axis": {"orient": "right", "values": [0, 0.8, 1.6, 2.4], "format": ".1f", "tickSize": 4, "labelPadding": 3, "title": ["Secondary Ionisation", "Rate ιᵧ [m⁻³s⁻¹]"], "titleFontSize": 21, "titlePadding": 5}},
    "color": {"field": "c", "type": "quantitative", "scale": {"scheme": "plasma", "domain": [0, 2.65]}, "legend": null}
  }
},
{
  "width": 467, "height": 224,
  "title": {"text": "Divergent Magnetic Topology", "frame": "group", "fontSize": 21.5, "offset": 6},
  "layer": [
    {"data": {"name": "div"}, "mark": {"type": "rect", "binSpacing": 0, "strokeWidth": 0.6},
     "encoding": {
       "x": {"field": "b", "type": "quantitative", "bin": {"binned": true, "step": 50}, "scale": {"domain": [0, 1000], "nice": false, "zero": false},
             "axis": {"values": [0, 200, 400, 600, 800, 1000], "labels": false, "tickSize": -4, "domain": false, "title": "(b)", "titleFontSize": 20, "titleAngle": 0, "titleAlign": "left", "titleBaseline": "alphabetic", "titleX": -69, "titleY": 16}},
       "y": {"field": "r", "type": "quantitative", "bin": {"binned": true, "step": 0.2}, "scale": {"domain": [-2.1, 2.1], "nice": false, "zero": false},
             "axis": {"values": [-2, -1, 0, 1, 2], "format": "d", "tickSize": -4, "labelPadding": 8, "domain": false, "title": "Radius R [mm]", "titlePadding": 6}},
       "color": {"field": "v", "type": "quantitative", "scale": {"scheme": "plasma", "domain": [0, 2.65]}, "legend": null},
       "stroke": {"field": "v", "type": "quantitative", "scale": {"scheme": "plasma", "domain": [0, 2.65]}, "legend": null}
     }},
    {"data": {"name": "divLine"}, "mark": {"type": "line", "stroke": "white", "strokeWidth": 2, "strokeDash": [7, 4], "opacity": 0.95},
     "encoding": {"x": {"field": "b", "type": "quantitative"}, "y": {"field": "r", "type": "quantitative"}, "detail": {"field": "s"}}}
  ]
},
{
  "width": 10, "height": 224,
  "data": {"name": "cb"},
  "title": {"text": "1e24", "anchor": "end", "frame": "group", "fontSize": 14, "offset": 2},
  "mark": {"type": "rect", "binSpacing": 0},
  "encoding": {
    "y": {"field": "c", "type": "quantitative", "bin": {"binned": true, "step": 0.05}, "scale": {"domain": [0, 2.65], "nice": false, "zero": false},
          "axis": {"orient": "right", "values": [0, 0.8, 1.6, 2.4], "format": ".1f", "tickSize": 4, "labelPadding": 3, "title": ["Secondary Ionisation", "Rate ιᵧ [m⁻³s⁻¹]"], "titleFontSize": 21, "titlePadding": 5}},
    "color": {"field": "c", "type": "quantitative", "scale": {"scheme": "plasma", "domain": [0, 2.65]}, "legend": null}
  }
},
{
  "width": 467, "height": 223,
  "title": {"text": "1e19", "anchor": "start", "frame": "group", "fontSize": 12, "offset": 3},
  "encoding": {"x": {"field": "b", "type": "quantitative", "scale": {"domain": [0, 1000], "nice": false, "zero": false},
     "axis": {"values": [0, 200, 400, 600, 800, 1000], "format": "d", "tickSize": -4, "labelPadding": 10, "labelFontSize": 16, "title": "Magnetic Field Strength B [G]", "titlePadding": 4}}},
  "layer": [
    {
      "data": {"name": "sig"},
      "encoding": {"y": {"field": "v", "type": "quantitative", "scale": {"domain": [0.11, 2.0], "nice": false, "zero": false},
         "axis": {"values": [0.5, 1.0, 1.5, 2.0], "format": ".1f", "labelFontSize": 15.5, "tickSize": -4, "labelPadding": 11, "title": ["Integrated Secondary", "Ionisation Rate Σιᵧ [s⁻¹]"], "titlePadding": 9}}},
      "layer": [
        {"mark": {"type": "line", "strokeWidth": 1.6},
         "encoding": {
           "stroke": {"field": "s", "type": "nominal", "scale": {"domain": ["Σιᵧ - Convergent", "Σιᵧ - Divergent", "P_rf - Convergent", "P_rf - Divergent"], "range": ["black", "black", "red", "red"]},
             "legend": {"title": null, "orient": "top-left", "offset": 14, "padding": 4, "columns": 2, "columnPadding": 38, "rowPadding": 10, "labelFontSize": 16, "labelOffset": 34, "labelLimit": 300, "symbolSize": 60, "symbolStrokeWidth": 1.3}},
           "strokeDash": {"field": "s", "type": "nominal", "scale": {"domain": ["Σιᵧ - Divergent", "Σιᵧ - Convergent", "P_rf - Divergent", "P_rf - Convergent"], "range": [[6, 3.5], [1, 0], [6, 3.5], [1, 0]]}, "legend": null}
         }},
        {"mark": {"type": "point", "filled": true, "size": 55, "strokeWidth": 1, "opacity": 1},
         "encoding": {
           "stroke": {"field": "s", "type": "nominal", "scale": {"domain": ["Σιᵧ - Convergent", "Σιᵧ - Divergent", "P_rf - Convergent", "P_rf - Divergent"], "range": ["black", "black", "red", "red"]}},
           "fill": {"field": "s", "type": "nominal", "scale": {"domain": ["Σιᵧ - Convergent", "Σιᵧ - Divergent", "P_rf - Convergent", "P_rf - Divergent"], "range": ["black", "transparent", "red", "transparent"]}},
           "shape": {"field": "s", "type": "nominal", "scale": {"domain": ["Σιᵧ - Convergent", "Σιᵧ - Divergent", "P_rf - Convergent", "P_rf - Divergent"], "range": ["circle", "circle", "triangle-up", "triangle-up"]}}
         }}
      ]
    },
    {
      "data": {"name": "prf"},
      "encoding": {"y": {"field": "v", "type": "quantitative", "scale": {"domain": [1.42, 5], "nice": false, "zero": false},
         "axis": {"orient": "right", "values": [2, 3, 4, 5], "format": "d", "labelFontSize": 15.5, "tickSize": 4, "labelPadding": 2, "labelColor": "red", "tickColor": "red", "domainColor": "red", "titleColor": "red", "title": ["Total Deposited", "power P_rf [W]"], "titlePadding": 4}}},
      "layer": [
        {"mark": {"type": "line", "strokeWidth": 1.6},
         "encoding": {
           "stroke": {"field": "s", "type": "nominal", "scale": {"domain": ["Σιᵧ - Convergent", "Σιᵧ - Divergent", "P_rf - Convergent", "P_rf - Divergent"], "range": ["black", "black", "red", "red"]}},
           "strokeDash": {"field": "s", "type": "nominal", "scale": {"domain": ["Σιᵧ - Divergent", "Σιᵧ - Convergent", "P_rf - Divergent", "P_rf - Convergent"], "range": [[6, 3.5], [1, 0], [6, 3.5], [1, 0]]}, "legend": null}
         }},
        {"mark": {"type": "point", "filled": true, "size": 55, "strokeWidth": 1, "opacity": 1},
         "encoding": {
           "stroke": {"field": "s", "type": "nominal", "scale": {"domain": ["Σιᵧ - Convergent", "Σιᵧ - Divergent", "P_rf - Convergent", "P_rf - Divergent"], "range": ["black", "black", "red", "red"]}},
           "fill": {"field": "s", "type": "nominal", "scale": {"domain": ["Σιᵧ - Convergent", "Σιᵧ - Divergent", "P_rf - Convergent", "P_rf - Divergent"], "range": ["black", "transparent", "red", "transparent"]}},
           "shape": {"field": "s", "type": "nominal", "scale": {"domain": ["Σιᵧ - Convergent", "Σιᵧ - Divergent", "P_rf - Convergent", "P_rf - Divergent"], "range": ["circle", "circle", "triangle-up", "triangle-up"]}}
         }}
      ]
    }
  ],
  "resolve": {"scale": {"y": "independent"}}
}
]
}
